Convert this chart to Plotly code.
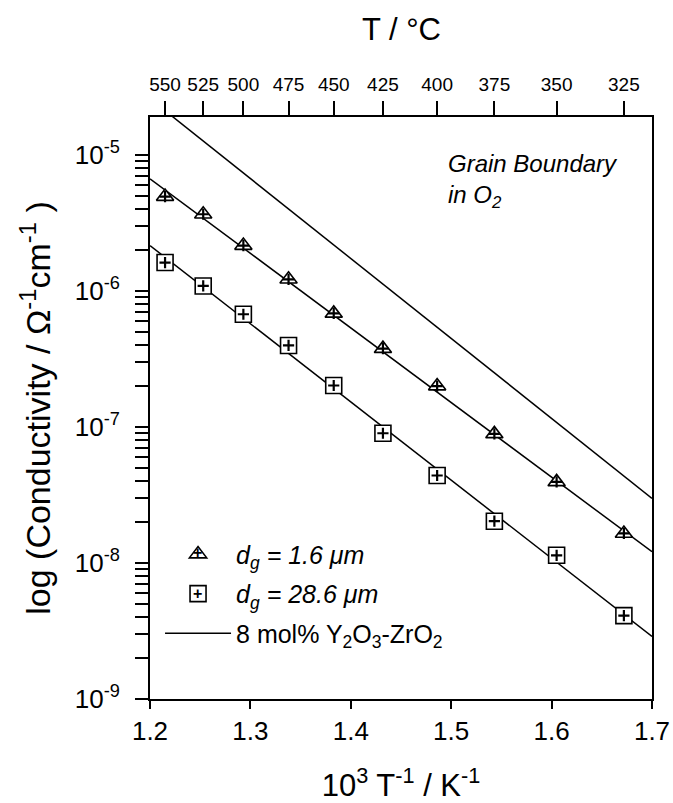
import plotly.graph_objects as go

# ---- data ----
temps_c = [550, 525, 500, 475, 450, 425, 400, 375, 350, 325]
inv_t = [1.215, 1.253, 1.293, 1.338, 1.383, 1.432, 1.486, 1.543, 1.605, 1.672]
sigma_fine = [4.95e-6, 3.67e-6, 2.16e-6, 1.22e-6, 6.85e-7, 3.77e-7, 2.0e-7, 8.9e-8, 3.95e-8, 1.65e-8]
sigma_coarse = [1.62e-6, 1.09e-6, 6.75e-7, 3.98e-7, 2.02e-7, 9.0e-8, 4.4e-8, 2.03e-8, 1.14e-8, 4.1e-9]

fit_x = [1.2, 1.7]
fit_fine = [6.7e-6, 1.21e-8]
fit_coarse = [2.16e-6, 2.88e-9]
ysz_line = [2.6e-5, 2.99e-8]

x_ticks = [1.2, 1.3, 1.4, 1.5, 1.6, 1.7]
x_ticktext = ["1.2", "1.3", "1.4", "1.5", "1.6", "1.7"]
y_ticks = [1e-9, 1e-8, 1e-7, 1e-6, 1e-5]
y_ticktext = ["10<sup>-9</sup>", "10<sup>-8</sup>", "10<sup>-7</sup>", "10<sup>-6</sup>", "10<sup>-5</sup>"]
top_ticktext = [str(t) for t in temps_c]

FONT = "Liberation Sans, Arial, sans-serif"
BLACK = "black"

fig = go.Figure()

# fitted lines
fig.add_trace(go.Scatter(x=fit_x, y=fit_fine, mode="lines", line=dict(color=BLACK, width=1.5),
                         showlegend=False, hoverinfo="skip"))
fig.add_trace(go.Scatter(x=fit_x, y=fit_coarse, mode="lines", line=dict(color=BLACK, width=1.5),
                         showlegend=False, hoverinfo="skip"))

# data markers
fig.add_trace(go.Scatter(x=inv_t, y=sigma_fine, mode="markers",
                         name="<i>d<sub>g</sub> = 1.6 \u03bcm</i>", legendrank=1, legendgroup="a",
                         marker=dict(symbol="triangle-up", size=15, color="white",
                                     line=dict(color=BLACK, width=1.6))))
fig.add_trace(go.Scatter(x=inv_t, y=sigma_coarse, mode="markers",
                         name="<i>d<sub>g</sub> = 28.6 \u03bcm</i>", legendrank=2, legendgroup="b",
                         marker=dict(symbol="square", size=16, color="white",
                                     line=dict(color=BLACK, width=1.6))))
# plus signs inside markers
fig.add_trace(go.Scatter(x=inv_t, y=sigma_fine, mode="markers", showlegend=False, hoverinfo="skip",
                         marker=dict(symbol="cross-thin-open", size=8, color=BLACK,
                                     line=dict(color=BLACK, width=2.2))))
fig.add_trace(go.Scatter(x=inv_t, y=sigma_coarse, mode="markers", showlegend=False, hoverinfo="skip",
                         marker=dict(symbol="cross-thin-open", size=8, color=BLACK,
                                     line=dict(color=BLACK, width=2.2))))

# 8YSZ reference line
fig.add_trace(go.Scatter(x=fit_x, y=ysz_line, mode="lines", line=dict(color=BLACK, width=1.5),
                         name="8 mol% Y<sub>2</sub>O<sub>3</sub>-ZrO<sub>2</sub>", legendrank=3,
                         legendgroup="c"))

# invisible trace for top axis
fig.add_trace(go.Scatter(x=fit_x, y=fit_fine, xaxis="x2", mode="lines",
                         line=dict(width=0), showlegend=False, hoverinfo="skip", opacity=0))

minor_vals = [k * 10.0 ** e for e in range(-9, -4) for k in range(2, 10)]

plus_font = dict(size=16, family=FONT, color=BLACK)

fig.update_layout(
    width=673, height=803, autosize=False,
    margin=dict(l=150, r=21, t=117, b=104, autoexpand=False),
    paper_bgcolor="white", plot_bgcolor="white",
    font=dict(family=FONT, color=BLACK),
    xaxis=dict(range=[1.2, 1.7], tickvals=x_ticks, ticktext=x_ticktext, automargin=False,
               ticks="outside", ticklen=8, tickwidth=1.5, tickcolor=BLACK,
               showline=True, linecolor=BLACK, linewidth=2, mirror=False,
               showgrid=False, zeroline=False,
               tickfont=dict(size=26, family=FONT), ticklabelstandoff=0,
               title=dict(text="10<sup>3</sup> T<sup>-1</sup> / K<sup>-1</sup>",
                          font=dict(size=31, family=FONT), standoff=39)),
    xaxis2=dict(range=[1.2, 1.7], overlaying="x", side="top", anchor="y", automargin=False,
                tickvals=inv_t, ticktext=top_ticktext,
                ticks="outside", ticklen=14, tickwidth=1.5, tickcolor=BLACK,
                showline=True, linecolor=BLACK, linewidth=2,
                showgrid=False, zeroline=False,
                tickfont=dict(size=19, family=FONT), ticklabelstandoff=2),
    yaxis=dict(type="log", range=[-9, -4.72], tickvals=y_ticks, ticktext=y_ticktext,
               automargin=False,
               ticks="outside", ticklen=13, tickwidth=1.5, tickcolor=BLACK,
               minor=dict(tickvals=minor_vals, ticks="outside", ticklen=13,
                          tickwidth=1.5, tickcolor=BLACK, showgrid=False),
               showline=True, linecolor=BLACK, linewidth=2, mirror=True,
               showgrid=False, zeroline=False,
               tickfont=dict(size=26, family=FONT), ticklabelstandoff=10,
               title=dict(text="log (Conductivity / \u03a9<sup>-1</sup>cm<sup>-1</sup> )",
                          font=dict(size=34, family=FONT), standoff=14)),
    legend=dict(x=0.02, y=0.288, xanchor="left", yanchor="top",
                bgcolor="rgba(0,0,0,0)", borderwidth=0,
                font=dict(size=25, family=FONT, color=BLACK),
                itemwidth=66, tracegroupgap=4),
    annotations=[
        dict(text="T / \u00b0C", xref="paper", yref="paper", x=0.5, y=1.0,
             xanchor="center", yanchor="bottom", yshift=68, showarrow=False,
             font=dict(size=31, family=FONT, color=BLACK)),
        dict(text="<i>Grain Boundary</i><br><i>in O<sub>2</sub></i>", xref="paper", yref="paper",
             x=0.59, y=0.947, xanchor="left", yanchor="top", align="left", showarrow=False,
             font=dict(size=24, family=FONT, color=BLACK)),
        # plus signs inside the legend symbols
        dict(text="<b>+</b>", xref="paper", yref="paper", x=0.0956, y=0.2509,
             xanchor="center", yanchor="middle", showarrow=False, font=plus_font),
        dict(text="<b>+</b>", xref="paper", yref="paper", x=0.0956, y=0.1821,
             xanchor="center", yanchor="middle", showarrow=False, font=plus_font),
    ],
)

fig.write_html("out.html", config={"displayModeBar": False, "responsive": False},
               post_script="document.body.style.margin='0px';")
